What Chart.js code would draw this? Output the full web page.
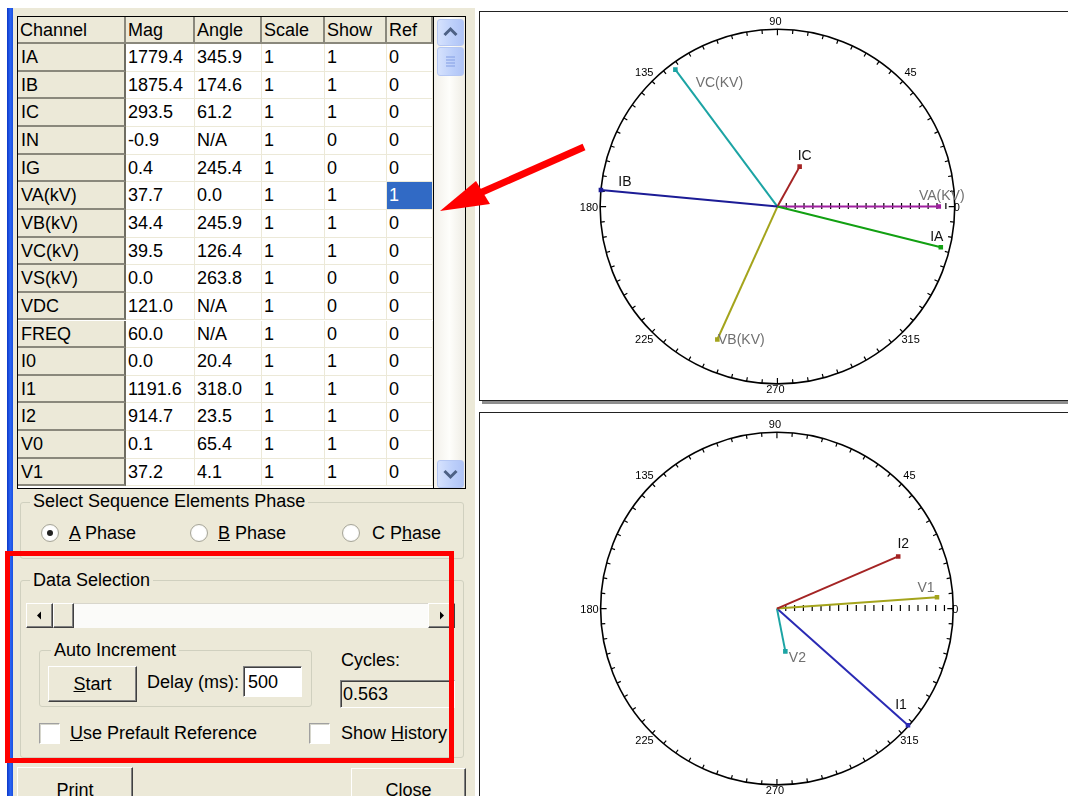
<!DOCTYPE html>
<html>
<head>
<meta charset="utf-8">
<script src="https://cdn.jsdelivr.net/npm/chart.js@4.4.1/dist/chart.umd.min.js"></script>
<style>
body{margin:0;width:1068px;height:796px;overflow:hidden;background:#fff;position:relative;font-family:"Liberation Sans",Arial,sans-serif;font-size:18px;color:#000}
.a{position:absolute;box-sizing:border-box;white-space:nowrap}
#frame{left:7px;top:8px;width:6px;height:788px;background:linear-gradient(90deg,#0a36c8,#2b64f2 55%,#1a4fe0)}
#dlg{left:13px;top:8px;width:462px;height:788px;background:#ECE9D8}
#grid{left:17px;top:16px;width:449px;height:473px;border:1px solid #000;background:#fff;overflow:hidden}
.c{position:absolute;box-sizing:border-box;padding-left:2px;overflow:hidden;white-space:nowrap}
.hd{background:#ECE9D8;border-right:2px solid #8a887c;border-bottom:2px solid #8a887c}
.rh{background:#ECE9D8;border-right:2px solid #6f6d62;border-bottom:2px solid #8a887c;padding-left:3px}
.dc{background:#fff;border-right:1px solid #ECE9D8;border-bottom:1px solid #ECE9D8}
.sel{background:#316AC5;color:#fff}
#vscroll{left:415px;top:0;width:32px;height:471px;border-left:1px solid #000;background:linear-gradient(90deg,#f2f0ea,#fefefb 50%,#eeece4)}
.xpbtn{position:absolute;left:3px;width:25px;height:25px;border:1px solid #b5c7f3;border-radius:3px;background:linear-gradient(90deg,#d6e2fd,#bccffa 60%,#b0c4f6)}
.grp{position:absolute;box-sizing:border-box;border:1px solid #d0d0bf;border-radius:3px}
.lg{position:absolute;background:#ECE9D8;padding:0 3px;line-height:20px}
.t{position:absolute;line-height:20px;white-space:nowrap}
.btn{position:absolute;box-sizing:border-box;background:#ECE9D8;border:1px solid;border-color:#fff #404040 #404040 #fff;box-shadow:inset -1px -1px 0 #808080;text-align:center}
.sunk{position:absolute;box-sizing:border-box;border:1px solid;border-color:#808080 #fff #fff #808080;box-shadow:inset 1px 1px 0 #404040}
.radio{position:absolute;width:18px;height:18px;border-radius:50%;box-sizing:border-box;border:1px solid #a7a69a;background:radial-gradient(circle,#fff 55%,#e6e5dc)}
.chk{position:absolute;width:21px;height:21px;box-sizing:border-box;background:#fff;border:1px solid;border-color:#a0a0a0 #fff #fff #a0a0a0;box-shadow:inset 1px 1px 0 #d6d6cc}
.panel{position:absolute;box-sizing:border-box;border:1.5px solid #222;background:#fff;box-shadow:3px 3px 0 #8e8e8e}
canvas{position:absolute}
</style>
</head>
<body>
<div id="frame" class="a"></div>
<div id="dlg" class="a"></div>

<div id="grid" class="a">
  <div id="cells"></div>
  <div id="vscroll" class="a">
    <div class="xpbtn" style="top:2px"><svg width="25" height="25"><path d="M6.5 15 L12.5 9 L18.5 15" stroke="#4d6185" stroke-width="3" fill="none"/></svg></div>
    <div class="xpbtn" style="top:30px;height:27px"><svg width="25" height="27"><g stroke="#8ea6e8" stroke-width="1.2"><line x1="8" y1="9" x2="17" y2="9"/><line x1="8" y1="12" x2="17" y2="12"/><line x1="8" y1="15" x2="17" y2="15"/><line x1="8" y1="18" x2="17" y2="18"/></g></svg></div>
    <div class="xpbtn" style="top:443px;height:26px"><svg width="25" height="26"><path d="M6.5 10 L12.5 16 L18.5 10" stroke="#4d6185" stroke-width="3" fill="none"/></svg></div>
  </div>
</div>

<!-- Select Sequence Elements Phase -->
<div class="grp" style="left:20px;top:502px;width:444px;height:57px"></div>
<div class="lg" style="left:30px;top:491px">Select Sequence Elements Phase</div>
<div class="radio" style="left:41px;top:524px"><div style="position:absolute;left:5px;top:5px;width:6px;height:6px;border-radius:50%;background:#222"></div></div>
<div class="t" style="left:69px;top:523px"><u>A</u> Phase</div>
<div class="radio" style="left:190px;top:524px"></div>
<div class="t" style="left:218px;top:523px"><u>B</u> Phase</div>
<div class="radio" style="left:342px;top:524px"></div>
<div class="t" style="left:372px;top:523px">C P<u>h</u>ase</div>

<!-- Data Selection -->
<div class="grp" style="left:20px;top:580px;width:444px;height:178px"></div>
<div class="lg" style="left:30px;top:570px">Data Selection</div>
<div class="a" style="left:26px;top:603px;width:429px;height:25px;background:#fbfbf9;border-top:1px solid #d8d6cc"></div>
<div class="btn" style="left:26px;top:603px;width:27px;height:25px"><svg width="25" height="23"><path d="M10 11.5 L14 7.5 L14 15.5 Z" fill="#000"/></svg></div>
<div class="btn" style="left:53px;top:603px;width:21px;height:25px"></div>
<div class="btn" style="left:428px;top:603px;width:27px;height:25px"><svg width="25" height="23"><path d="M15 11.5 L11 7.5 L11 15.5 Z" fill="#000"/></svg></div>

<div class="grp" style="left:39px;top:650px;width:273px;height:57px"></div>
<div class="lg" style="left:51px;top:640px">Auto Increment</div>
<div class="btn" style="left:48px;top:666px;width:89px;height:36px;line-height:34px"><u>S</u>tart</div>
<div class="t" style="left:147px;top:672px">Delay (ms):</div>
<div class="sunk" style="left:243px;top:666px;width:59px;height:31px;background:#fff"></div>
<div class="t" style="left:248px;top:672px">500</div>
<div class="t" style="left:341px;top:650px">Cycles:</div>
<div class="sunk" style="left:340px;top:680px;width:115px;height:28px;background:#ECE9D8"></div>
<div class="t" style="left:343px;top:684px">0.563</div>
<div class="chk" style="left:39px;top:723px"></div>
<div class="t" style="left:70px;top:723px"><u>U</u>se Prefault Reference</div>
<div class="chk" style="left:309px;top:723px"></div>
<div class="t" style="left:341px;top:723px">Show <u>H</u>istory</div>

<div class="btn" style="left:17px;top:767px;width:116px;height:42px;line-height:44px">Print</div>
<div class="btn" style="left:351px;top:768px;width:115px;height:42px;line-height:42px">Close</div>

<!-- phasor panels -->
<div class="panel" style="left:479px;top:11px;width:600px;height:390px"></div>
<canvas id="phaseChart" width="588" height="388" style="left:480px;top:12px"></canvas>
<div class="panel" style="left:479px;top:412px;width:600px;height:400px"></div>
<canvas id="seqChart" width="588" height="382" style="left:480px;top:414px"></canvas>

<!-- red annotations -->
<div class="a" style="left:5px;top:551px;width:449px;height:212px;border:5px solid #ff0000"></div>
<svg class="a" style="left:0;top:0" width="1068" height="796">
  <line x1="584" y1="147" x2="480" y2="193" stroke="#ff0000" stroke-width="7"/>
  <polygon points="440,211 476,181 490,204" fill="#ff0000"/>
</svg>

<script>
// table values
const channels = ['IA','IB','IC','IN','IG','VA(kV)','VB(kV)','VC(kV)','VS(kV)','VDC','FREQ','I0','I1','I2','V0','V1'];
const magValues = ['1779.4','1875.4','293.5','-0.9','0.4','37.7','34.4','39.5','0.0','121.0','60.0','0.0','1191.6','914.7','0.1','37.2'];
const angleValues = ['345.9','174.6','61.2','N/A','245.4','0.0','245.9','126.4','263.8','N/A','N/A','20.4','318.0','23.5','65.4','4.1'];
const scaleValues = [1,1,1,1,1,1,1,1,1,1,1,1,1,1,1,1];
const showValues = [1,1,1,0,0,1,1,1,0,0,0,1,1,1,1,1];
const refValues = [0,0,0,0,0,1,0,0,0,0,0,0,0,0,0,0];
const headers = ['Channel','Mag','Angle','Scale','Show','Ref'];

// phase phasors (length = fraction of dial radius as drawn)
const phaseNames = ['IA','IB','IC','VA(KV)','VB(KV)','VC(KV)'];
const phaseAngles = [345.9, 174.6, 61.2, 0.0, 245.9, 126.4];
const phaseLengths = [0.95, 1.0, 0.26, 0.91, 0.83, 0.97];

// sequence phasors
const seqNames = ['I2','V1','V2','I1'];
const seqAngles = [23.5, 4.1, 281.0, 318.0];
const seqLengths = [0.75, 0.91, 0.25, 1.0];

const dialLabels = [0, 45, 90, 135, 180, 225, 270, 315];

// ---- grid ----
const colLeft = [0, 108, 177, 244, 307, 369, 415];
const cellsDiv = document.getElementById('cells');
function addCell(cls, text, left, top, w, h) {
    const d = document.createElement('div');
    d.className = 'c ' + cls;
    d.style.cssText = `left:${left}px;top:${top}px;width:${w}px;height:${h}px;line-height:${h}px`;
    d.textContent = text;
    cellsDiv.appendChild(d);
}
headers.forEach((h, j) => addCell('hd', h, colLeft[j], 0, colLeft[j + 1] - colLeft[j], 27));
const rowH = 27.65;
channels.forEach((ch, i) => {
    const top = 27 + i * rowH;
    const vals = [magValues[i], angleValues[i], scaleValues[i], showValues[i], refValues[i]];
    addCell('rh', ch, colLeft[0], top, colLeft[1], rowH);
    vals.forEach((v, k) => {
        const j = k + 1;
        const cls = (j === 5 && refValues[i] === 1) ? 'dc sel' : 'dc';
        addCell(cls, String(v), colLeft[j], top, colLeft[j + 1] - colLeft[j], rowH);
    });
});

// ---- phasor charts ----
const colors = {
    'IA': '#12a012', 'IB': '#1c1c96', 'IC': '#a42424',
    'VA(KV)': '#a020a0', 'VB(KV)': '#a4a41c', 'VC(KV)': '#1ca4a4',
    'I1': '#2a2ab4', 'I2': '#a42424', 'V1': '#a4a41c', 'V2': '#1ca4a4'
};
const labelColors = { 'IA': '#111', 'IB': '#111', 'IC': '#111', 'I1': '#111', 'I2': '#111' };
// where the name sits relative to the phasor tip (px)
const labelOffsets = {
    'IA': [-4, -10], 'IB': [24, -8], 'IC': [5, -10], 'VA(KV)': [3, -10], 'VB(KV)': [24, 1], 'VC(KV)': [44, 14],
    'I2': [5, -12], 'V1': [-11, -9], 'V2': [12, 7], 'I1': [-7, -20]
};

const dialPlugin = {
    id: 'dial',
    beforeDatasetsDraw(chart) {
        const { ctx, scales: { x, y } } = chart;
        const cx = x.getPixelForValue(0), cy = y.getPixelForValue(0);
        const r = x.getPixelForValue(1) - cx;
        ctx.save();
        ctx.strokeStyle = '#000';
        ctx.lineWidth = 1.6;
        ctx.beginPath();
        ctx.arc(cx, cy, r, 0, Math.PI * 2);
        ctx.stroke();
        ctx.lineWidth = 1.2;
        ctx.beginPath();
        for (let d = 0; d < 360; d += 5) {
            const a = d * Math.PI / 180;
            const len = d % 90 === 0 ? 6 : 4;
            ctx.moveTo(cx + r * Math.cos(a), cy - r * Math.sin(a));
            ctx.lineTo(cx + (r - len) * Math.cos(a), cy - (r - len) * Math.sin(a));
        }
        // ticks on the 0 degree radius
        for (let k = 1; k <= 20; k++) {
            const px = x.getPixelForValue(k / 20);
            ctx.moveTo(px, cy - 3.5);
            ctx.lineTo(px, cy + 2.5);
        }
        ctx.stroke();
        ctx.fillStyle = '#000';
        ctx.font = '11px "Liberation Sans", Arial, sans-serif';
        dialLabels.forEach(d => {
            const a = d * Math.PI / 180;
            let tx, ty;
            if (d === 0) { ctx.textAlign = 'left'; ctx.textBaseline = 'middle'; tx = cx + r - 1; ty = cy + 1; }
            else if (d === 180) { ctx.textAlign = 'right'; ctx.textBaseline = 'middle'; tx = cx - r - 2; ty = cy + 1; }
            else if (d === 90) { ctx.textAlign = 'center'; ctx.textBaseline = 'bottom'; tx = cx - 2; ty = cy - r - 2; }
            else if (d === 270) { ctx.textAlign = 'center'; ctx.textBaseline = 'top'; tx = cx - 2; ty = cy + r + 1; }
            else {
                ctx.textAlign = 'center'; ctx.textBaseline = 'middle';
                tx = cx + (r + 11) * Math.cos(a); ty = cy - (r + 11) * Math.sin(a);
            }
            ctx.fillText(String(d), tx, ty);
        });
        ctx.restore();
    },
    afterDatasetsDraw(chart) {
        const ctx = chart.ctx;
        ctx.save();
        ctx.font = '14px "Liberation Sans", Arial, sans-serif';
        ctx.textAlign = 'center';
        ctx.textBaseline = 'middle';
        chart.data.datasets.forEach((ds, i) => {
            const tip = chart.getDatasetMeta(i).data[1];
            const off = labelOffsets[ds.label] || [0, -10];
            ctx.fillStyle = labelColors[ds.label] || '#707070';
            ctx.fillText(ds.label, tip.x + off[0], tip.y + off[1]);
        });
        ctx.restore();
    }
};

function phasorChart(id, names, angs, lens, cx, cy, r) {
    const cv = document.getElementById(id);
    const w = cv.width, h = cv.height;
    return new Chart(cv, {
        type: 'scatter',
        data: {
            datasets: names.map((n, i) => {
                const a = angs[i] * Math.PI / 180;
                return {
                    label: n,
                    data: [{ x: 0, y: 0 }, { x: lens[i] * Math.cos(a), y: lens[i] * Math.sin(a) }],
                    showLine: true,
                    borderColor: colors[n],
                    backgroundColor: colors[n],
                    borderWidth: 2,
                    pointRadius: [0, 1.8],
                    pointStyle: 'rect'
                };
            })
        },
        options: {
            responsive: false,
            animation: false,
            events: [],
            layout: { padding: 0 },
            plugins: { legend: { display: false }, tooltip: { enabled: false } },
            scales: {
                x: { type: 'linear', display: false, min: -cx / r, max: (w - cx) / r },
                y: { type: 'linear', display: false, min: -(h - cy) / r, max: cy / r }
            }
        },
        plugins: [dialPlugin]
    });
}

phasorChart('phaseChart', phaseNames, phaseAngles, phaseLengths, 297.5, 194.6, 181);
phasorChart('seqChart', seqNames, seqAngles, seqLengths, 297, 194.7, 180);
</script>
</body>
</html>
